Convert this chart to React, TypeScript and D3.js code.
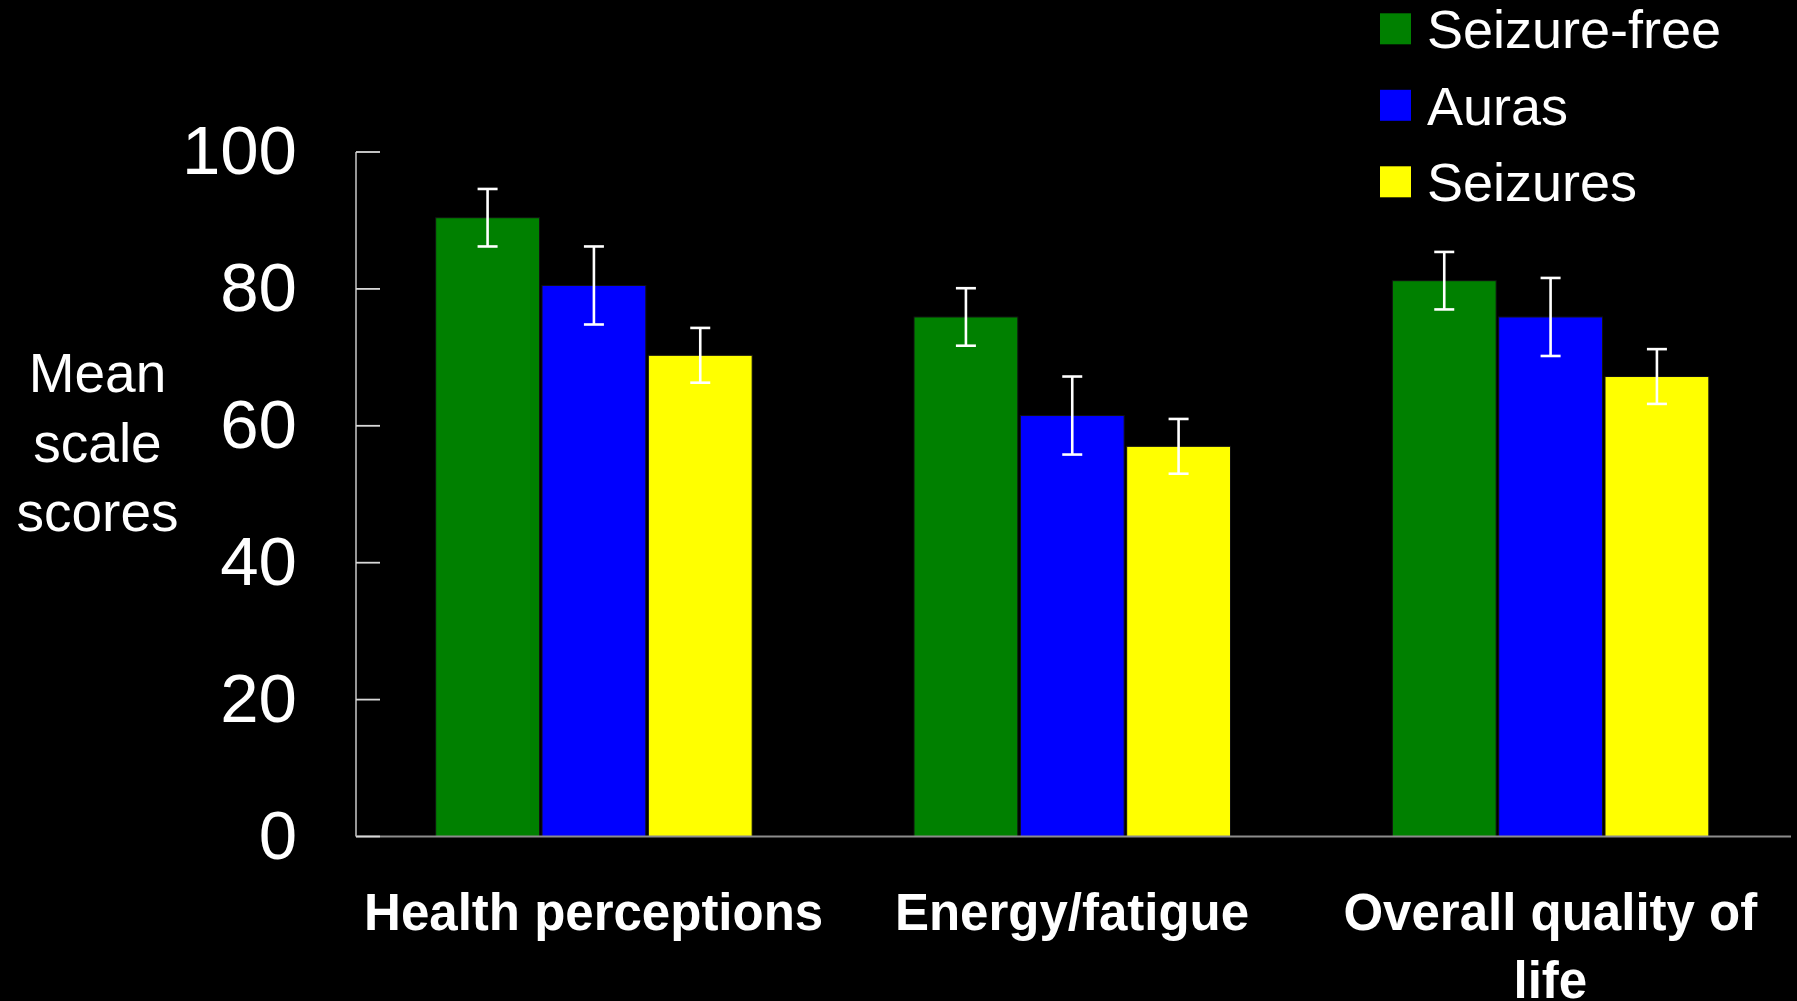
import React from 'react';
import * as d3 from 'd3';

const categories = ['Health perceptions', 'Energy/fatigue', 'Overall quality of life'];
const seriesNames = ['Seizure-free', 'Auras', 'Seizures'];
const seizureFree = [90.4, 75.9, 81.2];
const seizureFreeErr = [4.2, 4.2, 4.2];
const auras = [80.5, 61.5, 75.9];
const aurasErr = [5.7, 5.7, 5.7];
const seizures = [70.3, 57.0, 67.2];
const seizuresErr = [4.0, 4.0, 4.0];
const yTicks = [0, 20, 40, 60, 80, 100];
const yTitleLines = ['Mean', 'scale', 'scores'];
const seriesColors = ['#008000', '#0000FF', '#FFFF00'];

const W = 1797;
const H = 1001;
const FONT = "'Liberation Sans', Arial, Helvetica, sans-serif";

function wrapText(text: string, font: string, maxWidth: number): string[] {
  const canvas = document.createElement('canvas');
  const ctx = canvas.getContext('2d');
  if (!ctx) return [text];
  ctx.font = font;
  const words = text.split(' ');
  const lines: string[] = [];
  let cur = '';
  for (const w of words) {
    const test = cur ? cur + ' ' + w : w;
    if (ctx.measureText(test).width > maxWidth && cur) {
      lines.push(cur);
      cur = w;
    } else {
      cur = test;
    }
  }
  if (cur) lines.push(cur);
  return lines;
}

export default function App() {
  const values = [seizureFree, auras, seizures];
  const errors = [seizureFreeErr, aurasErr, seizuresErr];

  const axisLeft = 356;
  const axisRight = 1791;
  const y = d3.scaleLinear().domain([0, 100]).range([836.5, 152]);
  const x0 = d3.scaleBand<string>().domain(categories).range([axisLeft, axisRight]).padding(0);
  const groupWidth = 319;
  const groupOffset = (x0.bandwidth() - groupWidth) / 2;
  const x1 = d3.scaleBand<string>().domain(seriesNames).range([0, groupWidth]).padding(0);
  const barW = x1.bandwidth() - 2.5;
  const capHalf = 10;

  const catFont = `bold 51px ${FONT}`;

  return (
    <div style={{ position: 'fixed', left: 0, top: 0, width: W, height: H, background: '#000' }}>
      <svg width={W} height={H} style={{ display: 'block', background: '#000' }} fontFamily={FONT}>
        <rect x={0} y={0} width={W} height={H} fill="#000" />

        {/* bars */}
        {categories.map((cat, ci) =>
          seriesNames.map((s, si) => {
            const v = values[si][ci];
            const bx = (x0(cat) as number) + groupOffset + (x1(s) as number);
            return (
              <rect
                key={`b-${ci}-${si}`}
                x={bx}
                y={y(v)}
                width={barW}
                height={y(0) - y(v)}
                fill={seriesColors[si]}
                stroke="#111"
                strokeWidth={1}
              />
            );
          })
        )}

        {/* error bars */}
        {categories.map((cat, ci) =>
          seriesNames.map((s, si) => {
            const v = values[si][ci];
            const e = errors[si][ci];
            const cx = (x0(cat) as number) + groupOffset + (x1(s) as number) + barW / 2;
            return (
              <g key={`e-${ci}-${si}`} stroke="#fff" strokeWidth={2.6}>
                <line x1={cx} x2={cx} y1={y(v + e)} y2={y(v - e)} />
                <line x1={cx - capHalf} x2={cx + capHalf} y1={y(v + e)} y2={y(v + e)} />
                <line x1={cx - capHalf} x2={cx + capHalf} y1={y(v - e)} y2={y(v - e)} />
              </g>
            );
          })
        )}

        {/* axes */}
        <line x1={axisLeft} x2={axisLeft} y1={y(100)} y2={y(0)} stroke="#a8a8a8" strokeWidth={1.8} />
        <line x1={axisLeft} x2={axisRight} y1={y(0)} y2={y(0)} stroke="#8c8c8c" strokeWidth={2.2} />
        {yTicks.map((t) => (
          <g key={`t-${t}`}>
            <line x1={axisLeft} x2={axisLeft + 24} y1={y(t)} y2={y(t)} stroke="#d8d8d8" strokeWidth={1.8} />
            <text x={297} y={y(t) + 22} textAnchor="end" fontSize={69} fill="#fff">
              {t}
            </text>
          </g>
        ))}

        {/* y title */}
        {yTitleLines.map((line, i) => (
          <text key={`yt-${i}`} x={97.5} y={392 + i * 69.5} textAnchor="middle" fontSize={55} fill="#fff">
            {line}
          </text>
        ))}

        {/* category labels */}
        {categories.map((cat) => {
          const lines = wrapText(cat, catFont, x0.bandwidth());
          const cx = (x0(cat) as number) + x0.bandwidth() / 2 - 1.5;
          return (
            <text key={`c-${cat}`} x={cx} y={930} textAnchor="middle" fontSize={51} fontWeight="bold" fill="#fff">
              {lines.map((l, li) => (
                <tspan key={li} x={cx} dy={li === 0 ? 0 : 68}>
                  {l}
                </tspan>
              ))}
            </text>
          );
        })}

        {/* legend */}
        {seriesNames.map((s, i) => (
          <g key={`l-${s}`}>
            <rect x={1380} y={13.3 + i * 76.5} width={31} height={31} fill={seriesColors[i]} />
            <text x={1427} y={48.4 + i * 76.3} fontSize={54} fill="#fff">
              {s}
            </text>
          </g>
        ))}
      </svg>
    </div>
  );
}
